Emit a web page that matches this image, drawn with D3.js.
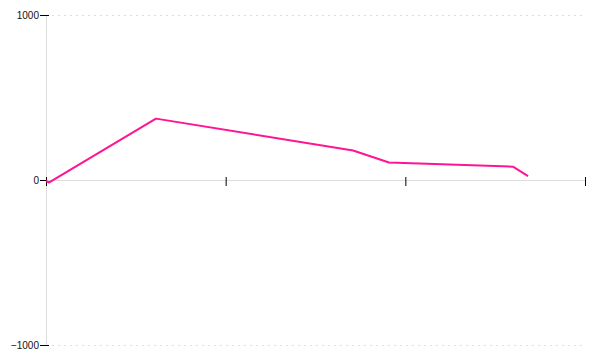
<!DOCTYPE html>
<html>
<head>
<meta charset="utf-8">
<script src="https://cdn.jsdelivr.net/npm/d3@7"></script>
<style>
  html, body { margin: 0; padding: 0; background: #fff; }
  svg { display: block; }
</style>
</head>
<body>
<svg id="chart" width="600" height="360"></svg>
<script>
// Data
const xValues = [0, 0.018, 0.612, 1.709, 1.909, 2.599, 2.683];
const yValues = [-6, -15, 372, 179, 106, 81, 24];
const xTicks = [0, 1, 2, 3];
const yTicks = [-1000, 0, 1000];

const width = 600, height = 360;
const margin = { top: 15, right: 15, bottom: 15, left: 46 };

const svg = d3.select("#chart");
const x = d3.scaleLinear().domain([0, 3]).range([margin.left, width - margin.right]);
const y = d3.scaleLinear().domain([-1000, 1000]).range([height - margin.bottom, margin.top]);

// dashed gridlines at top and bottom
svg.append("g")
  .selectAll("line")
  .data([-1000, 1000])
  .join("line")
  .attr("x1", margin.left)
  .attr("x2", width - margin.right)
  .attr("y1", d => y(d) + 0.5)
  .attr("y2", d => y(d) + 0.5)
  .attr("stroke", "#dedede")
  .attr("stroke-dasharray", "2,4");

// y axis
const yAxis = svg.append("g")
  .attr("transform", `translate(${margin.left},0)`)
  .call(d3.axisLeft(y).tickValues(yTicks).tickFormat(d3.format("d")).tickSizeInner(6).tickSizeOuter(0).tickPadding(2));
yAxis.select(".domain").attr("stroke", "#ddd").attr("d", `M0.5,${y(1000)}V${y(-1000)}`);
yAxis.selectAll(".tick line").attr("x1", 3).attr("x2", -6).attr("stroke", "#000");
yAxis.selectAll(".tick text")
  .attr("x", -7)
  .attr("font-family", "'Liberation Sans', Arial, sans-serif")
  .attr("font-size", 10)
  .attr("fill", "#111");

// x axis at zero
const xAxis = svg.append("g")
  .attr("transform", `translate(0,${y(0)})`)
  .call(d3.axisBottom(x).tickValues(xTicks).tickSizeInner(6).tickSizeOuter(0).tickFormat(""));
xAxis.select(".domain").attr("stroke", "#ddd");
xAxis.selectAll(".tick line").attr("y1", -3).attr("y2", 6).attr("stroke", "#000");

// line
const pts = xValues.map((d, i) => [d, yValues[i]]);
svg.append("path")
  .datum(pts)
  .attr("fill", "none")
  .attr("stroke", "#ff1493")
  .attr("stroke-width", 2)
  .attr("stroke-linejoin", "round")
  .attr("d", d3.line().x(d => x(d[0])).y(d => y(d[1])));
</script>
</body>
</html>
